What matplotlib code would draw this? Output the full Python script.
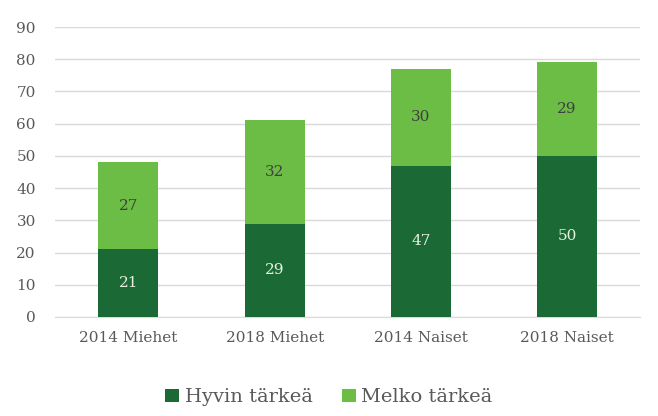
import matplotlib.pyplot as plt
import numpy as np

categories = ['2014 Miehet', '2018 Miehet', '2014 Naiset', '2018 Naiset']
hyvin = [21, 29, 47, 50]
melko = [27, 32, 30, 29]

dark = '#1b6a35'
light = '#6cbd45'
grey = '#595959'

plt.rcParams['font.family'] = ['DejaVu Serif']

fig = plt.figure(figsize=(6.58, 4.16), dpi=100)
ax = fig.add_axes([0.084, 0.238, 0.889, 0.697])

x = np.arange(len(categories))
w = 0.41
b1 = ax.bar(x, hyvin, w, color=dark, label='Hyvin tärkeä', zorder=3)
b2 = ax.bar(x, melko, w, bottom=hyvin, color=light, label='Melko tärkeä', zorder=3)

for i in range(len(categories)):
    ax.text(x[i], hyvin[i] / 2, str(hyvin[i]), ha='center', va='center',
            color='#e8f0e0', fontsize=11)
    ax.text(x[i], hyvin[i] + melko[i] / 2, str(melko[i]), ha='center', va='center',
            color='#404040', fontsize=11)

ax.set_xlim(-0.5, 3.5)
ax.set_ylim(0, 90)
ax.set_yticks(range(0, 91, 10))
ax.set_xticks(x)
ax.set_xticklabels(categories)
ax.tick_params(axis='both', length=0, labelsize=11, labelcolor=grey)
ax.tick_params(axis='x', pad=10)
ax.tick_params(axis='y', pad=14)
ax.grid(axis='y', color='#d9d9d9', linewidth=1, zorder=0)
for s in ['top', 'right', 'left']:
    ax.spines[s].set_visible(False)
ax.spines['bottom'].set_color('#d9d9d9')

fig.legend(handles=[b1, b2], loc='center', bbox_to_anchor=(0.5, 0.045), ncol=2,
           frameon=False, fontsize=14, labelcolor=grey, handlelength=0.7,
           handleheight=0.7, handletextpad=0.3, columnspacing=1.5)

plt.savefig('out.png', dpi=100)
